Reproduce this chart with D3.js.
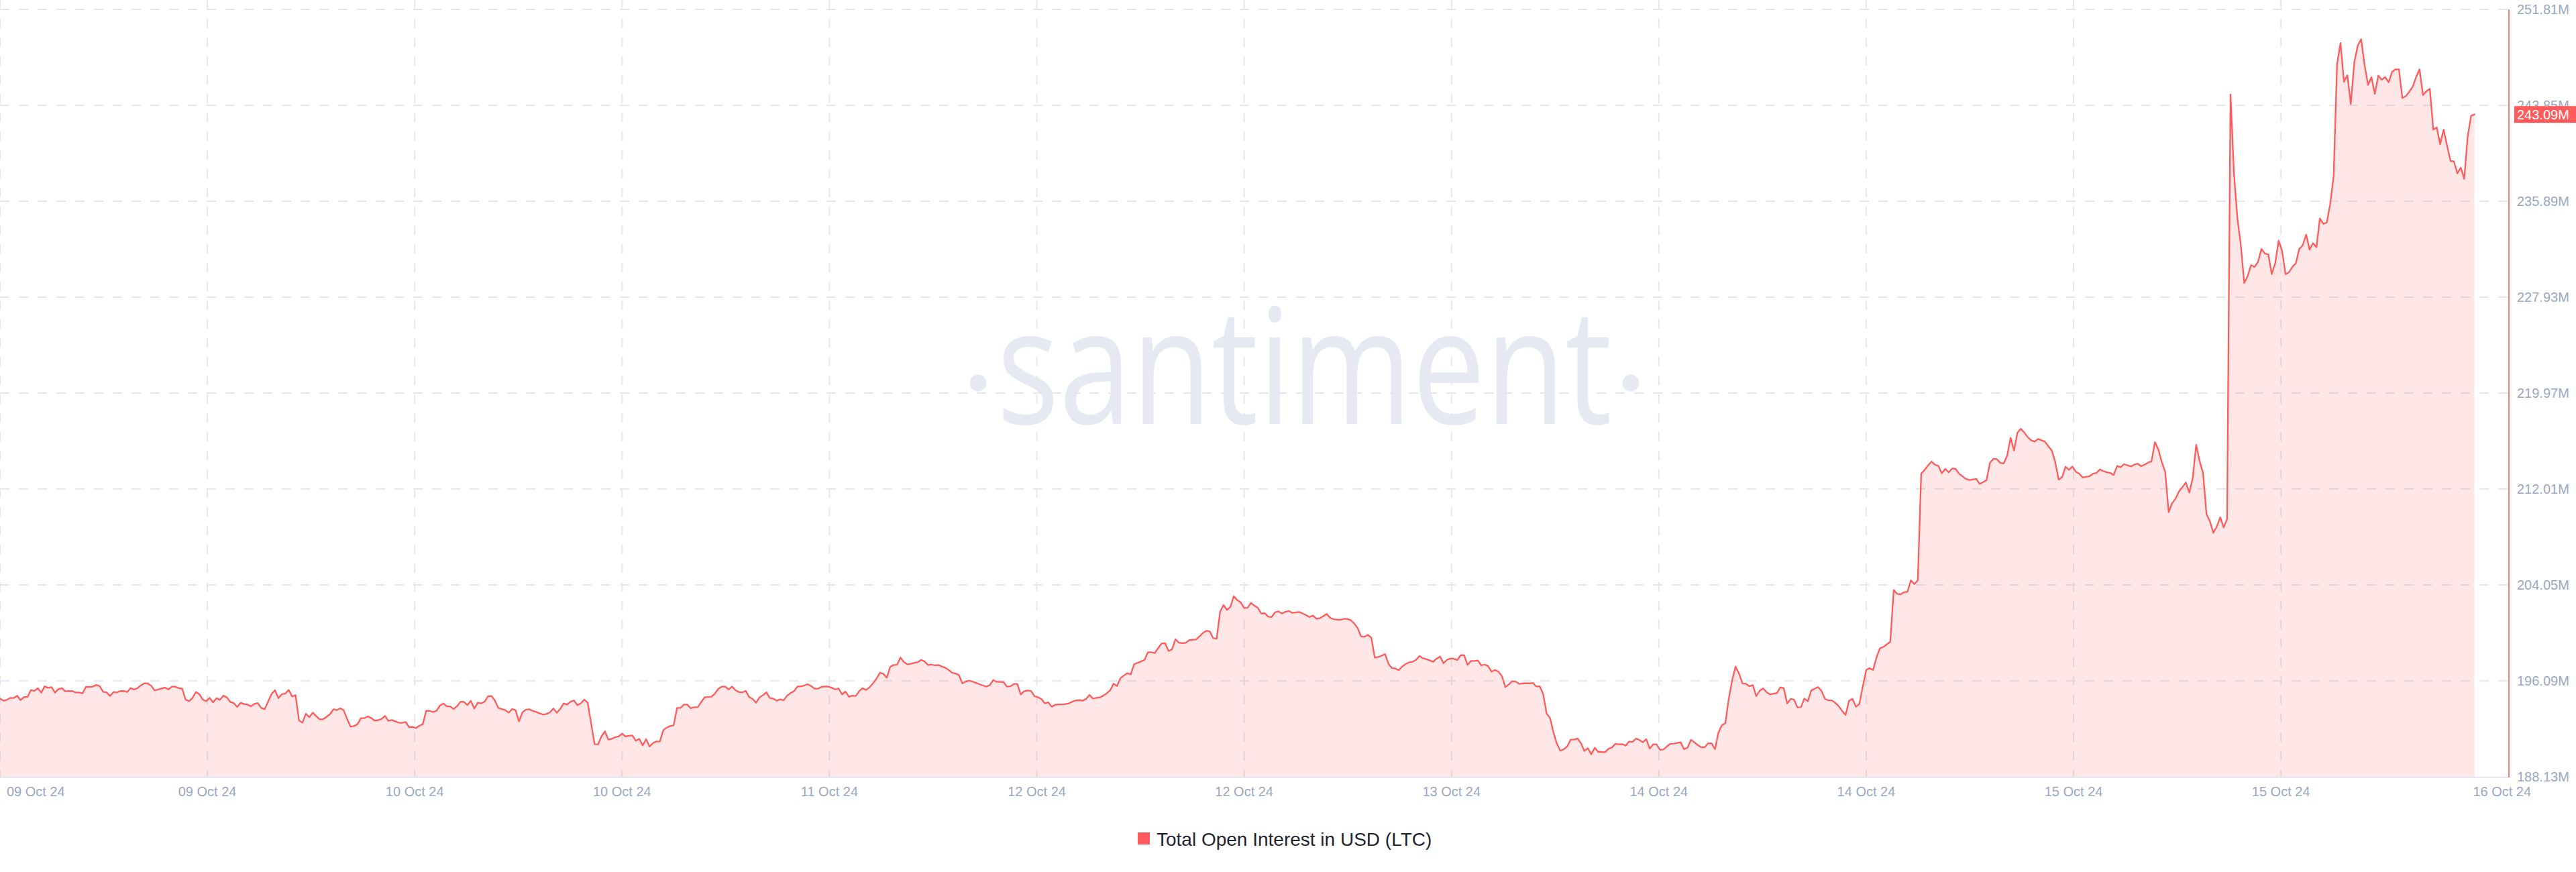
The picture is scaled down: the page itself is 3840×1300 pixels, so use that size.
<!DOCTYPE html>
<html><head><meta charset="utf-8">
<script src="https://cdn.jsdelivr.net/npm/d3@7"></script>
<style>html,body{margin:0;padding:0;background:#fff;} svg{display:block;}</style>
</head><body>
<svg id="chart" width="3840" height="1300"></svg>
<script>
// ---- data (USD millions) ----
const openInterest = [
194.62,194.44,194.51,194.68,194.66,194.85,194.49,194.75,194.75,195.33,
195.25,195.48,195.11,195.64,195.51,195.57,195.11,195.40,195.48,195.22,
195.25,195.24,195.12,195.12,195.05,195.59,195.59,195.61,195.75,195.66,
195.18,195.14,194.83,195.16,195.12,195.24,195.25,195.16,195.49,195.37,
195.48,195.72,195.88,195.87,195.68,195.29,195.37,195.46,195.53,195.38,
195.61,195.61,195.48,195.46,194.53,194.40,194.66,195.16,194.99,194.53,
194.40,194.68,194.31,194.66,194.51,194.86,194.72,194.34,194.25,193.92,
194.27,194.16,194.12,193.97,194.18,194.25,193.84,193.73,194.36,194.99,
195.31,194.66,194.98,195.03,195.33,194.79,194.90,192.81,192.62,193.36,
193.07,193.45,193.16,192.90,192.90,193.10,193.32,193.73,193.66,193.81,
193.66,192.92,192.29,192.34,192.49,192.99,192.99,193.14,193.01,192.79,
192.82,192.92,193.18,192.77,192.84,192.73,192.62,192.60,192.68,192.25,
192.27,192.17,192.36,192.49,193.60,193.60,
193.51,193.60,194.03,194.22,193.97,193.97,193.75,193.99,194.36,194.34,
194.07,194.44,193.79,194.27,194.22,194.36,194.81,194.83,194.46,193.84,
193.75,193.66,193.45,193.75,193.66,192.73,193.47,193.70,193.73,193.60,
193.51,193.40,193.29,193.34,193.47,193.79,193.44,193.75,194.22,194.12,
194.36,194.46,194.07,194.22,194.53,194.27,192.55,190.84,190.82,191.47,
191.90,191.21,191.28,191.41,191.47,191.71,191.47,191.53,191.56,191.12,
191.28,190.73,191.25,190.64,190.93,191.06,191.06,191.99,192.21,192.34,
192.40,193.84,193.84,194.12,194.12,193.81,193.90,193.90,194.31,194.72,
194.75,194.77,195.03,195.42,195.61,195.61,195.38,195.61,195.31,195.16,
195.14,195.25,194.75,194.59,194.27,194.72,194.90,195.14,194.66,194.62,
194.44,
194.55,194.47,194.86,195.07,195.22,195.61,195.64,195.70,195.81,195.66,
195.44,195.44,195.59,195.62,195.61,195.51,195.38,195.46,194.96,195.20,
194.77,194.86,194.83,195.24,195.48,195.33,195.55,195.88,196.26,196.76,
196.68,196.35,197.24,197.41,197.42,198.02,197.65,197.46,197.50,197.59,
197.63,197.83,197.70,197.41,197.44,197.37,197.41,197.28,197.18,197.00,
196.76,196.70,196.57,195.88,196.03,196.11,196.03,195.92,195.81,195.70,
195.61,195.74,196.16,196.01,196.00,195.98,195.61,195.64,195.83,195.83,
194.96,195.22,195.29,195.25,194.81,194.73,194.59,194.22,194.31,193.94,
194.10,194.14,194.14,194.16,194.22,194.36,194.46,194.49,194.44,194.59,
194.92,194.62,194.68,194.72,194.86,195.05,195.29,195.85,195.66,196.31,
196.53,196.72,
196.63,197.46,197.59,197.70,197.83,198.46,198.46,198.39,198.82,199.19,
199.22,198.57,198.70,199.54,199.26,199.22,199.24,199.46,199.50,199.52,
199.78,200.06,200.24,200.19,199.63,199.59,201.82,202.38,201.97,202.23,
203.12,202.79,202.60,202.14,202.15,202.56,202.32,202.14,201.67,201.71,
201.41,201.39,201.78,201.86,201.67,201.82,201.89,201.73,201.78,201.80,
201.69,201.54,201.38,201.51,201.25,201.28,201.45,201.64,201.32,201.21,
201.17,201.15,201.23,201.23,201.12,200.86,200.48,199.78,199.74,199.91,
199.67,198.02,198.07,198.18,198.31,197.50,197.15,197.11,196.98,197.28,
197.48,197.63,197.67,197.83,198.15,197.96,197.89,197.78,197.67,197.93,
198.11,197.55,197.83,197.93,197.93,197.81,198.22,198.22,197.41,197.74,
197.74,197.78,
197.37,197.44,197.31,196.85,197.00,196.85,196.48,195.57,195.79,196.05,
196.03,195.83,195.88,195.88,195.88,195.92,195.62,195.64,195.01,193.38,
193.01,191.80,190.88,190.28,190.41,190.65,191.21,191.21,191.30,190.91,
190.26,190.50,189.99,190.54,190.19,190.19,190.17,190.45,190.56,190.86,
190.82,190.84,190.71,191.06,191.02,191.30,191.19,190.99,191.25,190.47,
190.82,190.82,190.36,190.39,190.65,190.86,190.88,190.93,190.99,190.41,
190.54,191.19,190.99,190.76,190.58,190.58,190.91,190.91,190.41,191.80,
192.42,192.56,194.59,196.16,197.28,196.68,195.87,195.85,195.64,195.74,
194.81,195.27,195.46,195.14,194.96,195.03,195.07,195.55,195.48,194.22,
194.59,194.53,193.88,193.90,194.62,194.40,195.29,195.44,195.57,195.25,
194.59,
194.47,194.47,194.26,194.00,193.58,193.26,194.43,194.60,193.94,194.17,
195.60,196.99,197.14,196.99,198.05,198.80,198.90,199.12,199.33,203.63,
203.31,203.27,203.44,203.48,204.44,204.12,204.44,213.28,213.60,213.98,
214.28,214.03,213.92,213.32,213.68,213.39,213.71,213.68,213.28,213.07,
212.85,212.75,212.79,212.85,212.43,212.58,212.75,214.18,214.52,214.49,
214.18,214.13,214.77,216.26,215.20,216.69,217.01,216.69,216.31,216.05,
215.94,216.16,216.05,215.94,215.56,215.20,214.24,212.79,213.00,213.86,
213.60,213.88,213.43,213.28,212.96,213.02,213.07,213.28,213.34,213.64,
213.49,213.39,213.34,213.17,213.92,213.81,214.07,213.98,213.88,214.03,
214.11,213.90,214.03,214.20,214.30,215.90,215.30,214.24,213.43,210.09,
210.83,211.21,
211.80,212.16,212.55,211.71,212.91,215.68,214.34,213.35,209.95,209.33,
208.37,208.88,209.66,208.82,209.51,244.75,238.19,234.47,232.23,229.10,
229.70,230.59,230.44,230.86,231.93,231.54,231.48,229.84,230.74,232.62,
231.78,229.84,229.99,230.44,230.74,231.93,232.23,233.12,231.87,232.41,
232.08,234.47,234.02,234.11,235.66,237.95,247.29,249.02,245.80,246.34,
243.96,247.39,248.79,249.34,247.21,245.54,246.19,244.80,246.32,245.97,
246.19,245.76,246.62,246.84,246.84,244.46,244.61,244.98,245.39,246.19,
246.84,244.70,245.02,245.21,241.83,242.01,240.62,241.83,240.53,239.23,
239.19,238.21,238.68,237.75,241.27,242.98,243.09
];
const xTickLabels = ["09 Oct 24","09 Oct 24","10 Oct 24","10 Oct 24","11 Oct 24","12 Oct 24",
                     "12 Oct 24","13 Oct 24","14 Oct 24","14 Oct 24","15 Oct 24","15 Oct 24"];
const xEndLabel = "16 Oct 24";
const yTickValues = [188.13,196.09,204.05,212.01,219.97,227.93,235.89,243.85,251.81];
const seriesName = "Total Open Interest in USD (LTC)";
const watermarkText = "santiment";

// ---- layout ----
const RED = "#ff5b5b";
const AXIS_TXT = "#9ba6c0";
const GRID = "#e4e7f0";
const FONT = "'Liberation Sans', Arial, sans-serif";
const plot = {left: 0, right: 3740, top: 14, bottom: 1158};
const svg = d3.select("#chart");
svg.append("rect").attr("width", 3840).attr("height", 1300).attr("fill", "#fff");

const x = d3.scaleLinear().domain([0, 730]).range([plot.left, plot.right]);
const y = d3.scaleLinear().domain([yTickValues[0], yTickValues[yTickValues.length - 1]])
  .range([plot.bottom, plot.top]);
const tickSpan = 724 / 12;
const xTickIdx = xTickLabels.map((_, k) => k * tickSpan);

// watermark
const wm = svg.append("g").attr("fill", "#e6e9f2");
wm.append("text").text(watermarkText)
  .attr("x", 1944.5).attr("y", 632)
  .attr("text-anchor", "middle")
  .attr("font-family", "'Open Sans', sans-serif").attr("font-size", 240)
  .attr("textLength", 917).attr("lengthAdjust", "spacingAndGlyphs");
wm.append("circle").attr("cx", 1458).attr("cy", 571).attr("r", 12.5);
wm.append("circle").attr("cx", 2431).attr("cy", 571).attr("r", 12.5);

// grid
const grid = svg.append("g").attr("stroke", GRID).attr("stroke-width", 2).attr("stroke-dasharray", "14 14");
grid.selectAll("line.h").data(yTickValues.slice(1)).join("line").attr("class", "h")
  .attr("x1", plot.left).attr("x2", plot.right - 2)
  .attr("y1", d => y(d)).attr("y2", d => y(d));
grid.selectAll("line.v").data(xTickIdx).join("line").attr("class", "v")
  .attr("x1", d => x(d)).attr("x2", d => x(d))
  .attr("y1", 0).attr("y2", plot.bottom);

// area + line
const area = d3.area().x((d, i) => x(i)).y0(y(yTickValues[0])).y1(d => y(d));
const line = d3.line().x((d, i) => x(i)).y(d => y(d));
svg.append("path").datum(openInterest).attr("d", area)
  .attr("fill", RED).attr("fill-opacity", 0.15);
svg.append("path").datum(openInterest).attr("d", line)
  .attr("fill", "none").attr("stroke", RED).attr("stroke-width", 2.3)
  .attr("stroke-linejoin", "round").attr("stroke-linecap", "round");

// axes lines
svg.append("line").attr("x1", plot.left).attr("x2", plot.right)
  .attr("y1", plot.bottom + 1).attr("y2", plot.bottom + 1)
  .attr("stroke", "#e3e7f1").attr("stroke-width", 2);
svg.append("line").attr("x1", plot.right).attr("x2", plot.right)
  .attr("y1", plot.top).attr("y2", plot.bottom + 1)
  .attr("stroke", RED).attr("stroke-width", 1.6);

// y labels
svg.append("g").selectAll("text").data(yTickValues).join("text")
  .attr("x", plot.right + 12).attr("y", d => y(d)).attr("dy", "0.36em")
  .attr("font-family", FONT).attr("font-size", 20).attr("fill", AXIS_TXT)
  .text(d => d.toFixed(2) + "M");

// last value badge
const last = openInterest[openInterest.length - 1];
svg.append("rect").attr("x", plot.right + 8).attr("y", y(last) - 12.5)
  .attr("width", 3840 - plot.right - 8).attr("height", 25).attr("fill", RED);
svg.append("text").attr("x", plot.right + 12).attr("y", y(last)).attr("dy", "0.36em")
  .attr("font-family", FONT).attr("font-size", 20).attr("fill", "#fff")
  .text(last.toFixed(2) + "M");

// x labels
const xl = svg.append("g").attr("font-family", FONT).attr("font-size", 20).attr("fill", AXIS_TXT);
xl.selectAll("text").data(xTickLabels).join("text")
  .attr("x", (d, i) => i === 0 ? 10 : x(xTickIdx[i]))
  .attr("text-anchor", (d, i) => i === 0 ? "start" : "middle")
  .attr("y", 1187).text(d => d);
xl.append("text").attr("x", x(728)).attr("y", 1187).attr("text-anchor", "middle").text(xEndLabel);

// legend
svg.append("rect").attr("x", 1696).attr("y", 1241).attr("width", 18).attr("height", 18).attr("fill", RED);
svg.append("text").attr("x", 1724).attr("y", 1261)
  .attr("font-family", FONT).attr("font-size", 28).attr("fill", "#1f2430").text(seriesName);
</script>
</body></html>
